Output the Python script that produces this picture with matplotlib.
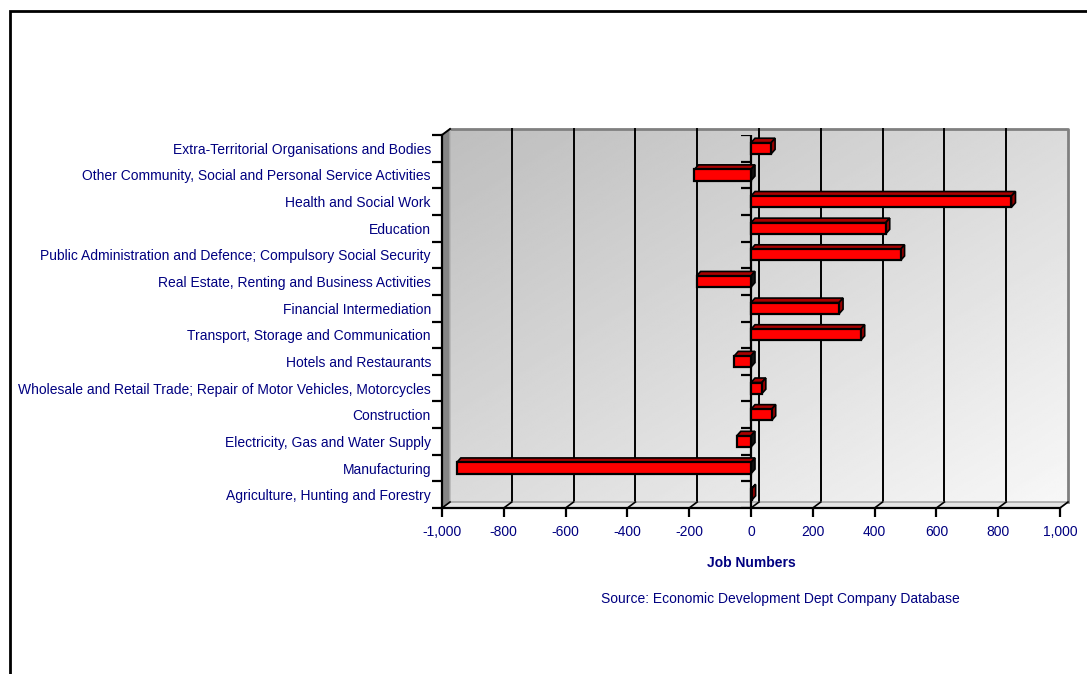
import matplotlib
matplotlib.use('Agg')
import matplotlib.pyplot as plt
import matplotlib.patches as patches
import matplotlib.ticker as ticker
import numpy as np

# Data (listed top to bottom as shown)
categories = [
    'Extra-Territorial Organisations and Bodies',
    'Other Community, Social and Personal Service Activities',
    'Health and Social Work',
    'Education',
    'Public Administration and Defence; Compulsory Social Security',
    'Real Estate, Renting and Business Activities',
    'Financial Intermediation',
    'Transport, Storage and Communication',
    'Hotels and Restaurants',
    'Wholesale and Retail Trade; Repair of Motor Vehicles, Motorcycles',
    'Construction',
    'Electricity, Gas and Water Supply',
    'Manufacturing',
    'Agriculture, Hunting and Forestry',
]
job_change = [65, -183, 843, 436, 484, -176, 285, 355, -54, 35, 67, -46, -952, 2]
x_ticks = list(range(-1000, 1001, 200))

# Layout (pixels)
W, H, DPI = 1087, 674, 100
ax_left, ax_right, ax_top, ax_bottom = 442, 1060, 135, 508
navy = '#000080'
fs = 10
plt.rcParams['font.family'] = ['Liberation Sans', 'DejaVu Sans']

fig = plt.figure(figsize=(W / DPI, H / DPI), dpi=DPI)
ax = fig.add_axes([ax_left / W, 1 - ax_bottom / H,
                   (ax_right - ax_left) / W, (ax_bottom - ax_top) / H])

n = len(categories)
xmin, xmax = x_ticks[0], x_ticks[-1]
ymin, ymax = -0.5, n - 0.5
px_x = (ax_right - ax_left) / (xmax - xmin)
px_y = (ax_bottom - ax_top) / n

# depth of the walls and the bars, px -> data units
wdx, wdy = 8 / px_x, 6 / px_y
bdx, bdy = 4 / px_x, 4.5 / px_y

# back wall with a diagonal grey gradient
u, v = np.meshgrid(np.linspace(0, 1, 200), np.linspace(0, 1, 200))
shade = 0.745 + 0.225 * (u + v) / 2
ax.imshow(shade, cmap='gray', vmin=0, vmax=1, aspect='auto',
          extent=(xmin + wdx, xmax + wdx, ymax - wdy, ymin - wdy),
          zorder=0, clip_on=False, interpolation='bilinear')
ax.plot([xmin + wdx, xmax + wdx, xmax + wdx], [ymin - wdy, ymin - wdy, ymax - wdy],
        color='#808080', lw=2, clip_on=False, zorder=1)

# gridlines on the back wall
for t in x_ticks[1:-1]:
    ax.plot([t + wdx, t + wdx], [ymin - wdy, ymax - wdy], color='black', lw=1.4,
            clip_on=False, zorder=1)

# left side wall
side = patches.Polygon([(xmin, ymin), (xmin + wdx, ymin - wdy), (xmin + wdx, ymax - wdy), (xmin, ymax)],
                       closed=True, facecolor='#858585', edgecolor='#b0b0b0', lw=1, clip_on=False, zorder=1)
ax.add_patch(side)
ax.plot([xmin, xmin + wdx], [ymin, ymin - wdy], color='black', lw=1.4, clip_on=False, zorder=2)

# floor
floor = patches.Polygon([(xmin, ymax), (xmax, ymax), (xmax + wdx, ymax - wdy), (xmin + wdx, ymax - wdy)],
                        closed=True, facecolor='#e4e4e4', edgecolor='#9a9a9a', lw=1, clip_on=False, zorder=1)
ax.add_patch(floor)
for t in x_ticks:
    ax.plot([t, t + wdx], [ymax, ymax - wdy], color='black', lw=1.2, clip_on=False, zorder=1.5)

# category axis crossing at zero
tick_units = 10 / px_x
bounds = np.arange(n + 1) - 0.5
ax.plot([0, 0], [ymin, ymax], color='black', lw=1.6, zorder=2)
ax.hlines(bounds, -tick_units, 0, color='black', lw=1.6, zorder=2)

# bars with top and end faces
h = 0.42
idx = np.arange(n)
for i, val in zip(idx, job_change):
    lo, hi = min(0, val), max(0, val)
    top = patches.Polygon([(lo, i - h / 2), (hi, i - h / 2), (hi + bdx, i - h / 2 - bdy), (lo + bdx, i - h / 2 - bdy)],
                          closed=True, facecolor='#a80000', edgecolor='black', lw=1.2, zorder=3)
    end_col = '#9a0000' if val > 0 else '#111111'
    end = patches.Polygon([(hi, i - h / 2), (hi + bdx, i - h / 2 - bdy), (hi + bdx, i + h / 2 - bdy), (hi, i + h / 2)],
                          closed=True, facecolor=end_col, edgecolor='black', lw=1.2, zorder=3)
    ax.add_patch(top)
    ax.add_patch(end)
ax.barh(idx, job_change, height=h, color='#ff0000', edgecolor='black', linewidth=1.6, zorder=4)

ax.set_xlim(xmin, xmax)
ax.set_ylim(ymax, ymin)
ax.patch.set_visible(False)
for s in ['top', 'right']:
    ax.spines[s].set_visible(False)
for s in ['left', 'bottom']:
    ax.spines[s].set_linewidth(1.6)
    ax.spines[s].set_zorder(2)

ax.set_xticks(x_ticks)
ax.xaxis.set_major_formatter(ticker.FuncFormatter(lambda x, p: f'{int(x):,}'))
ax.tick_params(axis='x', direction='out', length=6.5, width=1.6, pad=6,
               labelsize=fs, labelcolor=navy)
ax.set_yticks(idx)
ax.set_yticklabels(categories)
ax.set_yticks(bounds, minor=True)
ax.tick_params(axis='y', which='major', length=0, pad=8, labelsize=fs, labelcolor=navy)
ax.tick_params(axis='y', which='minor', direction='out', length=7, width=1.6)

ax.set_xlabel('Job Numbers', fontsize=fs, fontweight='bold', color=navy, labelpad=12)
fig.text(780 / W, 1 - 599 / H, 'Source: Economic Development Dept Company Database',
         ha='center', va='center', fontsize=fs, color=navy)

# outer chart border
fig.add_artist(patches.Rectangle((10 / W, -0.1), 1.2, 1.1 - 11 / H, transform=fig.transFigure,
                                 fill=False, edgecolor='black', lw=2))

fig.savefig('out.png', dpi=DPI)
